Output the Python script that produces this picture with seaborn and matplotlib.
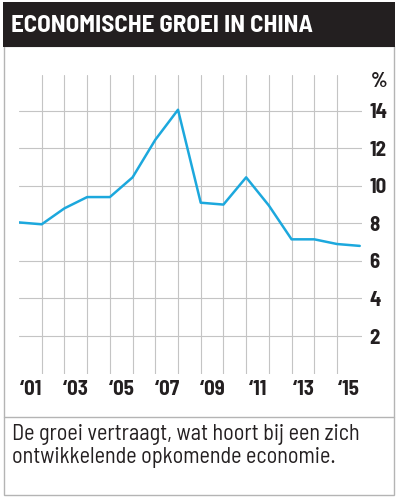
import matplotlib
matplotlib.use('Agg')
import matplotlib.pyplot as plt
import pandas as pd
import seaborn as sns
from matplotlib.patches import Rectangle
from matplotlib.lines import Line2D

# data (annual GDP growth, %)
years = [2000, 2001, 2002, 2003, 2004, 2005, 2006, 2007,
         2008, 2009, 2010, 2011, 2012, 2013, 2014, 2015]
growth = [8.05, 7.95, 8.8, 9.4, 9.4, 10.45, 12.45, 14.05,
          9.1, 9.0, 10.45, 8.95, 7.15, 7.15, 6.9, 6.8]
y_ticks = [2, 4, 6, 8, 10, 12, 14]
label_years = [2001, 2003, 2005, 2007, 2009, 2011, 2013, 2015]
year_labels = ['\u201801', '\u201803', '\u201805', '\u201807',
               '\u201809', '\u201811', '\u201813', '\u201815']

title = 'ECONOMISCHE GROEI IN CHINA'
caption = 'De groei vertraagt, wat hoort bij een zich\nontwikkelende opkomende economie.'

df = pd.DataFrame({'year': years, 'growth': growth})

sns.set_theme(style='white')
semi = ['Barlow Semi Condensed', 'DejaVu Sans']
plt.rcParams['font.family'] = semi
plt.rcParams['font.stretch'] = 'condensed'
ink = '#231f20'

W, H = 399, 499
fig = plt.figure(figsize=(W / 100, H / 100), dpi=100)

def fx(px):
    return px / W

def fy(py):
    return 1 - py / H

# outer frame and caption separator
fig.add_artist(Rectangle((fx(3.5), fy(495)), fx(393.5) - fx(3.5), fy(46) - fy(495),
                         transform=fig.transFigure, fill=False, edgecolor='#b4b4b4', lw=1.0))
fig.add_artist(Line2D([fx(3.5), fx(393.5)], [fy(417.3), fy(417.3)],
                      transform=fig.transFigure, color='#b4b4b4', lw=1.0))
# title bar
fig.add_artist(Rectangle((fx(3), fy(47)), fx(395) - fx(3), fy(2) - fy(47),
                         transform=fig.transFigure, color=ink, lw=0))
fig.text(fx(11), fy(25.5), title, color='white', fontsize=18, fontweight='bold',
         ha='left', va='center')

ax = fig.add_axes([fx(19), fy(373.6), fx(362) - fx(19), fy(75) - fy(373.6)])
sns.lineplot(data=df, x='year', y='growth', ax=ax, color='#1ca8dd', lw=1.8)

ax.set_xlim(2000, 2015.1)
ax.set_ylim(0, 15.9)
ax.set_xticks(years[1:-1])
ax.set_xticklabels([])
ax.set_xticks([y - 0.5 for y in label_years], minor=True)
ax.set_xticklabels(year_labels, minor=True)
ax.set_yticks(y_ticks)
ax.yaxis.tick_right()
ax.tick_params(axis='x', which='both', length=0, pad=4.5)
ax.tick_params(axis='y', length=0, pad=5.5)
for lab in ax.get_xticklabels(minor=True) + ax.get_yticklabels():
    lab.set_fontweight('bold')
    lab.set_fontsize(15)
    lab.set_color(ink)
ax.grid(True, which='major', color='#c4c4c4', lw=0.8)
ax.set_axisbelow(True)
for s in ax.spines.values():
    s.set_visible(False)
ax.set_xlabel('')
ax.set_ylabel('')
ax.patch.set_alpha(0)

fig.text(fx(371), fy(82), '%', fontsize=15, fontweight='bold', color=ink,
         ha='left', va='center')

fig.text(fx(12), fy(446), caption, fontsize=16, color=ink,
         ha='left', va='center', linespacing=1.08)

fig.savefig('out.png', dpi=100)
